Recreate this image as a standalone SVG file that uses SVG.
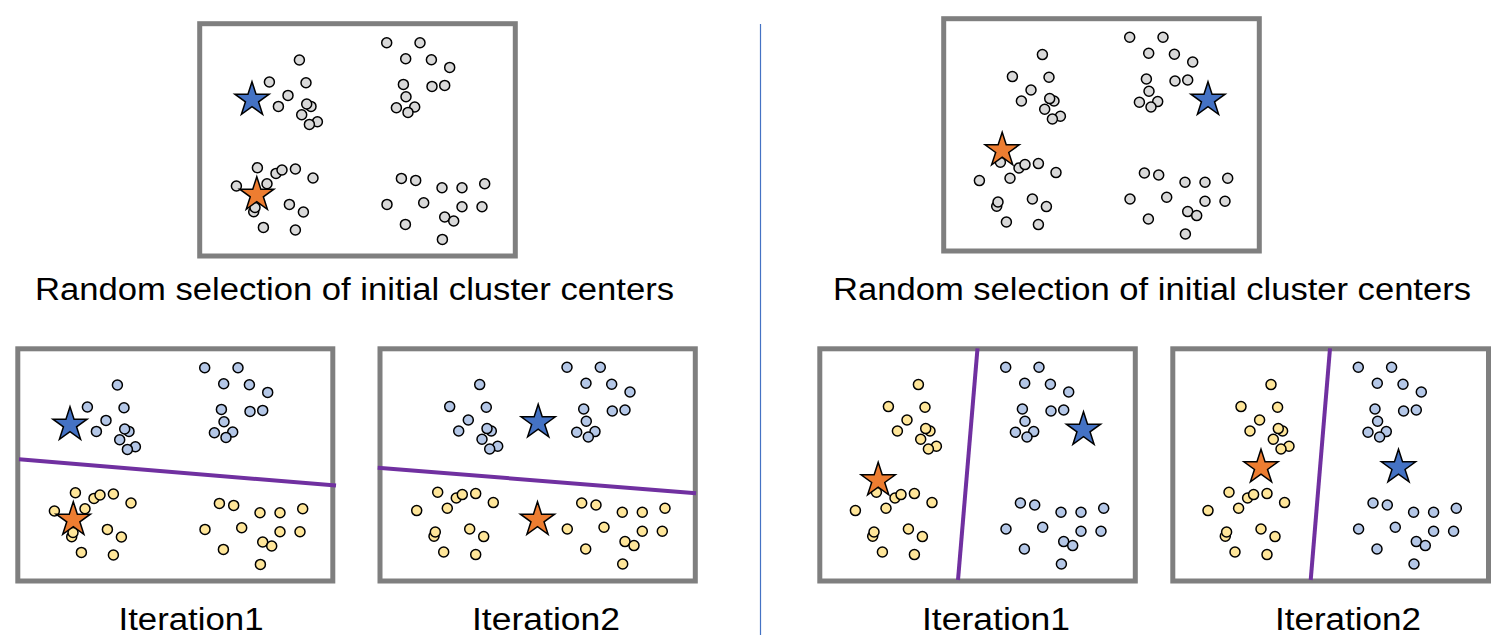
<svg xmlns="http://www.w3.org/2000/svg" xmlns:xlink="http://www.w3.org/1999/xlink" width="1505" height="635" viewBox="0 0 1505 635">
<style>
.frame{fill:#ffffff;stroke:#7f7f7f;stroke-width:5}
.gray{fill:#d9d9d9}
.blue{fill:#b4c7e7}
.yellow{fill:#ffe699}
.dots circle{stroke:#000000;stroke-width:1.5}
.sb{fill:#4472c4;stroke:#000000;stroke-width:1.5;stroke-linejoin:miter}
.so{fill:#ed7d31;stroke:#000000;stroke-width:1.5;stroke-linejoin:miter}
.split{stroke:#7030a0;stroke-width:4;fill:none}
.lbl{font-family:"Liberation Sans",Arial,sans-serif;font-size:31px;fill:#000000;text-anchor:middle}
</style>
<defs>
<path id="star" d="M0,-18 L4.04,-5.57 L17.12,-5.56 L6.54,2.13 L10.58,14.56 L0,6.88 L-10.58,14.56 L-6.54,2.13 L-17.12,-5.56 L-4.04,-5.57 Z"/>
<g id="cTL" class="dots">
<circle cx="99.7" cy="36.3" r="5"/><circle cx="69.7" cy="58.3" r="5"/><circle cx="106.3" cy="59" r="5"/><circle cx="88.3" cy="71.7" r="5"/><circle cx="78.7" cy="82.7" r="5"/><circle cx="111.3" cy="82.7" r="5"/><circle cx="107" cy="80.3" r="5"/><circle cx="102" cy="91" r="5"/><circle cx="117.7" cy="98" r="5"/><circle cx="109.7" cy="100.7" r="5"/>
</g>
<g id="cTR" class="dots">
<circle cx="187" cy="19" r="5"/><circle cx="220.3" cy="19" r="5"/><circle cx="206" cy="35" r="5"/><circle cx="231.7" cy="36" r="5"/><circle cx="250" cy="43.7" r="5"/><circle cx="203.7" cy="60.7" r="5"/><circle cx="232.3" cy="62.7" r="5"/><circle cx="245" cy="61.7" r="5"/><circle cx="206.3" cy="73" r="5"/><circle cx="196.7" cy="84" r="5"/><circle cx="215" cy="83.3" r="5"/><circle cx="208.3" cy="88.7" r="5"/>
</g>
<g id="cBL" class="dots">
<circle cx="57.7" cy="144" r="5"/><circle cx="76.3" cy="149.7" r="5"/><circle cx="82.3" cy="146.3" r="5"/><circle cx="95.7" cy="145.3" r="5"/><circle cx="113.3" cy="154.3" r="5"/><circle cx="36.7" cy="162.3" r="5"/><circle cx="67.3" cy="160" r="5"/><circle cx="54" cy="188" r="5"/><circle cx="55.3" cy="183.7" r="5"/><circle cx="89.7" cy="180.7" r="5"/><circle cx="103.7" cy="188.3" r="5"/><circle cx="63.7" cy="203.7" r="5"/><circle cx="95.7" cy="206.3" r="5"/>
</g>
<g id="cBR" class="dots">
<circle cx="201.7" cy="154.7" r="5"/><circle cx="216" cy="156.7" r="5"/><circle cx="242.3" cy="164" r="5"/><circle cx="262.3" cy="164" r="5"/><circle cx="285" cy="160" r="5"/><circle cx="187.3" cy="180.7" r="5"/><circle cx="224" cy="179" r="5"/><circle cx="262.3" cy="183" r="5"/><circle cx="282.3" cy="183" r="5"/><circle cx="245" cy="193.3" r="5"/><circle cx="254" cy="197.3" r="5"/><circle cx="205.7" cy="200.7" r="5"/><circle cx="242.7" cy="215.7" r="5"/>
</g>
</defs>

<line x1="760.5" y1="24" x2="760.5" y2="635" stroke="#4472c4" stroke-width="1.2"/>

<g id="panel-left-initial">
<rect class="frame" x="199.7" y="23.7" width="315.6" height="232.3"/>
<g transform="translate(199.7,23.7)">
<use xlink:href="#cTL" class="gray"/><use xlink:href="#cTR" class="gray"/><use xlink:href="#cBL" class="gray"/><use xlink:href="#cBR" class="gray"/>
</g>
<use xlink:href="#star" class="sb" x="252" y="99.7"/>
<use xlink:href="#star" class="so" x="256.8" y="194.7"/>
</g>

<g id="panel-right-initial">
<rect class="frame" x="943.7" y="18.7" width="315.6" height="232.3"/>
<g transform="translate(942.7,18.3)">
<use xlink:href="#cTL" class="gray"/><use xlink:href="#cTR" class="gray"/><use xlink:href="#cBL" class="gray"/><use xlink:href="#cBR" class="gray"/>
</g>
<use xlink:href="#star" class="sb" x="1208" y="99.7"/>
<use xlink:href="#star" class="so" x="1002.2" y="150.3"/>
</g>

<g id="panel-left-iter1">
<rect class="frame" x="17.8" y="348.8" width="315" height="232.2"/>
<g transform="translate(17.7,348.7)">
<use xlink:href="#cTL" class="blue"/><use xlink:href="#cTR" class="blue"/><use xlink:href="#cBL" class="yellow"/><use xlink:href="#cBR" class="yellow"/>
</g>
<line class="split" x1="19" y1="459.3" x2="336" y2="485.5"/>
<use xlink:href="#star" class="sb" x="70" y="424.7"/>
<use xlink:href="#star" class="so" x="73.3" y="519.7"/>
</g>

<g id="panel-left-iter2">
<rect class="frame" x="380" y="348.8" width="315.3" height="232.2"/>
<g transform="translate(380,348.3)">
<use xlink:href="#cTL" class="blue"/><use xlink:href="#cTR" class="blue"/><use xlink:href="#cBL" class="yellow"/><use xlink:href="#cBR" class="yellow"/>
</g>
<line class="split" x1="377.7" y1="467.7" x2="696" y2="493.3"/>
<use xlink:href="#star" class="sb" x="538.2" y="422.3"/>
<use xlink:href="#star" class="so" x="537.5" y="519.7"/>
</g>

<g id="panel-right-iter1">
<rect class="frame" x="819.8" y="348.8" width="315.5" height="232.2"/>
<g transform="translate(818.7,348.3)">
<use xlink:href="#cTL" class="yellow"/><use xlink:href="#cTR" class="blue"/><use xlink:href="#cBL" class="yellow"/><use xlink:href="#cBR" class="blue"/>
</g>
<line class="split" x1="977.5" y1="348.3" x2="958" y2="580"/>
<use xlink:href="#star" class="sb" x="1083.5" y="429.7"/>
<use xlink:href="#star" class="so" x="878.2" y="480.3"/>
</g>

<g id="panel-right-iter2">
<rect class="frame" x="1172.8" y="348.8" width="315.7" height="232.2"/>
<g transform="translate(1171.3,348.3)">
<use xlink:href="#cTL" class="yellow"/><use xlink:href="#cTR" class="blue"/><use xlink:href="#cBL" class="yellow"/><use xlink:href="#cBR" class="blue"/>
</g>
<line class="split" x1="1330" y1="348.3" x2="1310.7" y2="580"/>
<use xlink:href="#star" class="so" x="1261" y="467.3"/>
<use xlink:href="#star" class="sb" x="1398.5" y="467.3"/>
</g>

<g id="labels">
<text class="lbl" x="354.5" y="300" textLength="639" lengthAdjust="spacingAndGlyphs">Random selection of initial cluster centers</text>
<text class="lbl" x="1152" y="300" textLength="638" lengthAdjust="spacingAndGlyphs">Random selection of initial cluster centers</text>
<text class="lbl" x="191" y="630" textLength="145" lengthAdjust="spacingAndGlyphs">Iteration1</text>
<text class="lbl" x="546" y="630" textLength="148" lengthAdjust="spacingAndGlyphs">Iteration2</text>
<text class="lbl" x="996" y="630" textLength="148" lengthAdjust="spacingAndGlyphs">Iteration1</text>
<text class="lbl" x="1348" y="630" textLength="146" lengthAdjust="spacingAndGlyphs">Iteration2</text>
</g>
</svg>
